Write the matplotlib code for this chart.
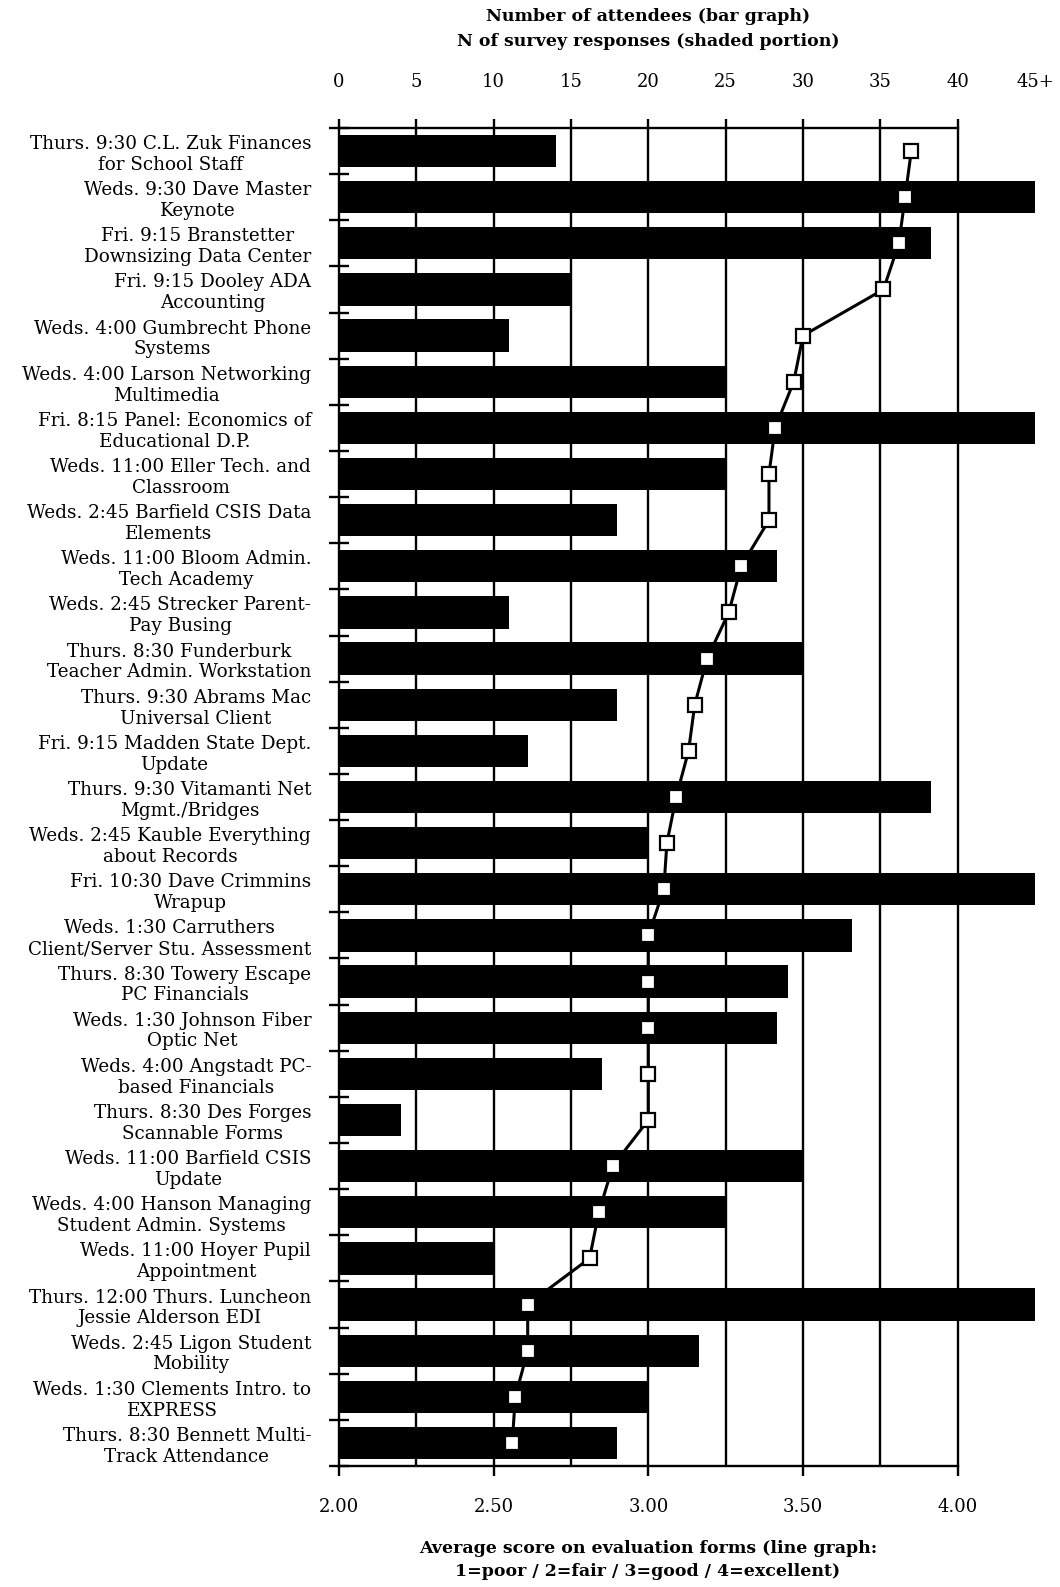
import matplotlib
matplotlib.use('Agg')
import matplotlib.pyplot as plt
import numpy as np

sessions = [
    "Thurs. 9:30 C.L. Zuk Finances\nfor School Staff",
    "Weds. 9:30 Dave Master\nKeynote",
    "Fri. 9:15 Branstetter\nDownsizing Data Center",
    "Fri. 9:15 Dooley ADA\nAccounting",
    "Weds. 4:00 Gumbrecht Phone\nSystems",
    "Weds. 4:00 Larson Networking\nMultimedia",
    "Fri. 8:15 Panel: Economics of\nEducational D.P.",
    "Weds. 11:00 Eller Tech. and\nClassroom",
    "Weds. 2:45 Barfield CSIS Data\nElements",
    "Weds. 11:00 Bloom Admin.\nTech Academy",
    "Weds. 2:45 Strecker Parent-\nPay Busing",
    "Thurs. 8:30 Funderburk\nTeacher Admin. Workstation",
    "Thurs. 9:30 Abrams Mac\nUniversal Client",
    "Fri. 9:15 Madden State Dept.\nUpdate",
    "Thurs. 9:30 Vitamanti Net\nMgmt./Bridges",
    "Weds. 2:45 Kauble Everything\nabout Records",
    "Fri. 10:30 Dave Crimmins\nWrapup",
    "Weds. 1:30 Carruthers\nClient/Server Stu. Assessment",
    "Thurs. 8:30 Towery Escape\nPC Financials",
    "Weds. 1:30 Johnson Fiber\nOptic Net",
    "Weds. 4:00 Angstadt PC-\nbased Financials",
    "Thurs. 8:30 Des Forges\nScannable Forms",
    "Weds. 11:00 Barfield CSIS\nUpdate",
    "Weds. 4:00 Hanson Managing\nStudent Admin. Systems",
    "Weds. 11:00 Hoyer Pupil\nAppointment",
    "Thurs. 12:00 Thurs. Luncheon\nJessie Alderson EDI",
    "Weds. 2:45 Ligon Student\nMobility",
    "Weds. 1:30 Clements Intro. to\nEXPRESS",
    "Thurs. 8:30 Bennett Multi-\nTrack Attendance",
]

attendees = [14, 45, 38.3, 15, 11, 25, 45, 25, 18, 28.3, 11, 30, 18, 12.2,
             38.3, 20, 45, 33.2, 29, 28.3, 17, 4, 30, 25, 10, 45, 23.3, 20, 18]

avg_score = [3.85, 3.83, 3.81, 3.76, 3.50, 3.47, 3.41, 3.39, 3.39, 3.30,
             3.26, 3.19, 3.15, 3.13, 3.09, 3.06, 3.05, 3.00, 3.00, 3.00,
             3.00, 3.00, 2.885, 2.84, 2.81, 2.61, 2.61, 2.57, 2.56]

top_ticks = [0, 5, 10, 15, 20, 25, 30, 35, 40, 45]
top_labels = ["0", "5", "10", "15", "20", "25", "30", "35", "40", "45+"]
grid_values = [5, 10, 15, 20, 25, 30, 35, 40]
bottom_ticks = [2.0, 2.5, 3.0, 3.5, 4.0]
bottom_labels = ["2.00", "2.50", "3.00", "3.50", "4.00"]

top_title = "Number of attendees (bar graph)\nN of survey responses (shaded portion)"
bottom_title = "Average score on evaluation forms (line graph:\n1=poor / 2=fair / 3=good / 4=excellent)"

plt.rcParams['font.family'] = ['DejaVu Serif']

W, H = 1060, 1587
fig = plt.figure(figsize=(W / 100, H / 100), dpi=100)
L, R, T, B = 339, 1035, 128, 1466
rect = [L / W, 1 - B / H, (R - L) / W, (B - T) / H]

n = len(sessions)
y = np.arange(n)
LW = 1.7

# Bar layer (attendee scale, top axis)
axb = fig.add_axes(rect)
axb.set_xlim(0, 45)
axb.set_ylim(n - 0.5, -0.5)
for v in grid_values:
    axb.axvline(v, color='black', lw=LW, zorder=1)
axb.barh(y, attendees, height=0.7, color='black', zorder=2)
for s in axb.spines.values():
    s.set_visible(False)
axb.xaxis.tick_top()
axb.set_xticks(top_ticks, top_labels)
axb.tick_params(axis='x', direction='out', length=6.5, width=LW, pad=20,
                labelsize=13, top=True, bottom=False)
axb.xaxis.get_major_ticks()[-1].tick2line.set_visible(False)
axb.set_yticks([])

# Line layer (score scale, bottom axis)
axl = fig.add_axes(rect)
axl.patch.set_visible(False)
axl.set_xlim(2.0, 4.25)
axl.set_ylim(n - 0.5, -0.5)
axl.plot(avg_score, y, '-s', color='black', lw=2.2, ms=10,
         mfc='white', mec='black', mew=1.6, zorder=5)
axl.spines['right'].set_visible(False)
for side in ['left', 'top', 'bottom']:
    axl.spines[side].set_linewidth(LW)
axl.spines['top'].set_bounds(2.0, 4.0)
axl.spines['bottom'].set_bounds(2.0, 4.0)
axl.set_xticks(bottom_ticks, bottom_labels)
axl.tick_params(axis='x', direction='out', length=7, width=LW, pad=16,
                labelsize=13, top=False, bottom=True)
axl.set_yticks(y, sessions)
axl.set_yticks(np.arange(-0.5, n, 1), minor=True)
axl.tick_params(axis='y', which='major', length=0, pad=20, labelsize=13.2)
axl.tick_params(axis='y', which='minor', direction='inout', length=14, width=LW)
for lbl in axl.get_yticklabels():
    lbl.set_multialignment('center')
    lbl.set_linespacing(1.2)

fig.text(648 / W, 1 - 29 / H, top_title, ha='center', va='center',
         fontsize=12.5, fontweight='bold', linespacing=1.6)
fig.text(648 / W, 1 - 1560 / H, bottom_title, ha='center', va='center',
         fontsize=12.5, fontweight='bold', linespacing=1.45)

fig.savefig('out.png', dpi=100)
